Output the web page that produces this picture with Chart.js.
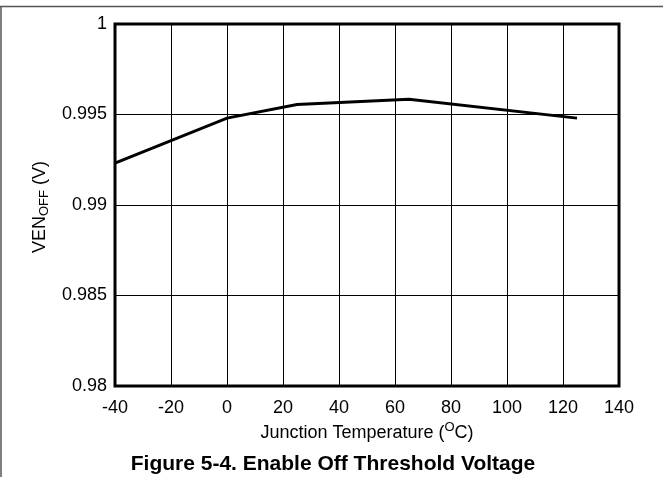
<!DOCTYPE html>
<html>
<head>
<meta charset="utf-8">
<script src="https://cdn.jsdelivr.net/npm/chart.js@4"></script>
<style>
  html, body { margin: 0; padding: 0; background: #fff; }
  #wrap { width: 663px; height: 477px; position: relative; }
</style>
</head>
<body>
<div id="wrap"><canvas id="c"></canvas></div>
<script>
// data
const temps = [-40, 0, 25, 65, 125];
const venOff = [0.99232, 0.99480, 0.99555, 0.99584, 0.99480];
const xTicks = [-40, -20, 0, 20, 40, 60, 80, 100, 120, 140];
const yTicks = [0.98, 0.985, 0.99, 0.995, 1];

const FONT = '"Liberation Sans", Arial, sans-serif';

// frame, axis titles (with sub/superscripts) and the caption
const decorations = {
  id: 'decorations',
  beforeDraw(chart) {
    const ctx = chart.ctx;
    ctx.save();
    ctx.fillStyle = '#fff';
    ctx.fillRect(0, 0, chart.width, chart.height);
    ctx.strokeStyle = '#555';
    ctx.lineWidth = 1.5;
    ctx.beginPath();
    ctx.moveTo(0, 6.5);
    ctx.lineTo(chart.width, 6.5);
    ctx.moveTo(1, 6.5);
    ctx.lineTo(1, chart.height);
    ctx.stroke();
    ctx.restore();
  },
  afterDraw(chart) {
    const ctx = chart.ctx;
    const a = chart.chartArea;
    ctx.save();
    // plot border
    ctx.strokeStyle = '#000';
    ctx.lineWidth = 3;
    ctx.strokeRect(a.left, a.top, a.right - a.left, a.bottom - a.top);

    ctx.fillStyle = '#000';
    ctx.textBaseline = 'alphabetic';

    // y title: VEN_OFF (V)
    ctx.save();
    ctx.translate(45, 207);
    ctx.rotate(-Math.PI / 2);
    const big = '18px ' + FONT, small = '13px ' + FONT;
    ctx.font = big;
    const w1 = ctx.measureText('VEN').width;
    const w3 = ctx.measureText(' (V)').width;
    ctx.font = small;
    const w2 = ctx.measureText('OFF').width;
    let x = -(w1 + w2 + w3) / 2;
    ctx.font = big;
    ctx.fillText('VEN', x, 0);
    ctx.font = small;
    ctx.fillText('OFF', x + w1, 3);
    ctx.font = big;
    ctx.fillText(' (V)', x + w1 + w2, 0);
    ctx.restore();

    // x title: Junction Temperature (°C) with superscript O
    ctx.font = big;
    const p1 = 'Junction Temperature (';
    const t1 = ctx.measureText(p1).width;
    const t3 = ctx.measureText('C)').width;
    ctx.font = small;
    const t2 = ctx.measureText('O').width;
    const cx = (a.left + a.right) / 2;
    x = cx - (t1 + t2 + t3) / 2;
    const by = 438;
    ctx.font = big;
    ctx.fillText(p1, x, by);
    ctx.font = small;
    ctx.fillText('O', x + t1, by - 7);
    ctx.font = big;
    ctx.fillText('C)', x + t1 + t2, by);

    // caption
    ctx.font = 'bold 21px ' + FONT;
    ctx.textAlign = 'center';
    ctx.fillText('Figure 5-4. Enable Off Threshold Voltage', 333, 470);
    ctx.restore();
  }
};

new Chart(document.getElementById('c'), {
  type: 'line',
  data: {
    datasets: [{
      data: temps.map((t, i) => ({ x: t, y: venOff[i] })),
      borderColor: '#000',
      borderWidth: 3,
      pointRadius: 0,
      tension: 0,
      fill: false,
    }],
  },
  options: {
    responsive: true,
    maintainAspectRatio: false,
    animation: false,
    layout: { padding: { top: 24, right: 44, left: 0, bottom: 0 } },
    plugins: { legend: { display: false }, tooltip: { enabled: false } },
    scales: {
      x: {
        type: 'linear',
        min: -40,
        max: 140,
        afterBuildTicks: (s) => { s.ticks = xTicks.map((v) => ({ value: v })); },
        afterFit: (s) => { s.height = 91; },
        grid: { color: '#000', lineWidth: 1, drawTicks: false },
        border: { display: false },
        ticks: { color: '#000', padding: 11, maxRotation: 0, font: { family: FONT, size: 18 } },
      },
      y: {
        min: 0.98,
        max: 1,
        afterBuildTicks: (s) => { s.ticks = yTicks.map((v) => ({ value: v })); },
        afterFit: (s) => { s.width = 115; },
        grid: { color: '#000', lineWidth: 1, drawTicks: false },
        border: { display: false },
        ticks: {
          color: '#000',
          padding: 8,
          font: { family: FONT, size: 18 },
          callback: (v) => String(+v.toFixed(3)),
        },
      },
    },
  },
  plugins: [decorations],
});
</script>
</body>
</html>
